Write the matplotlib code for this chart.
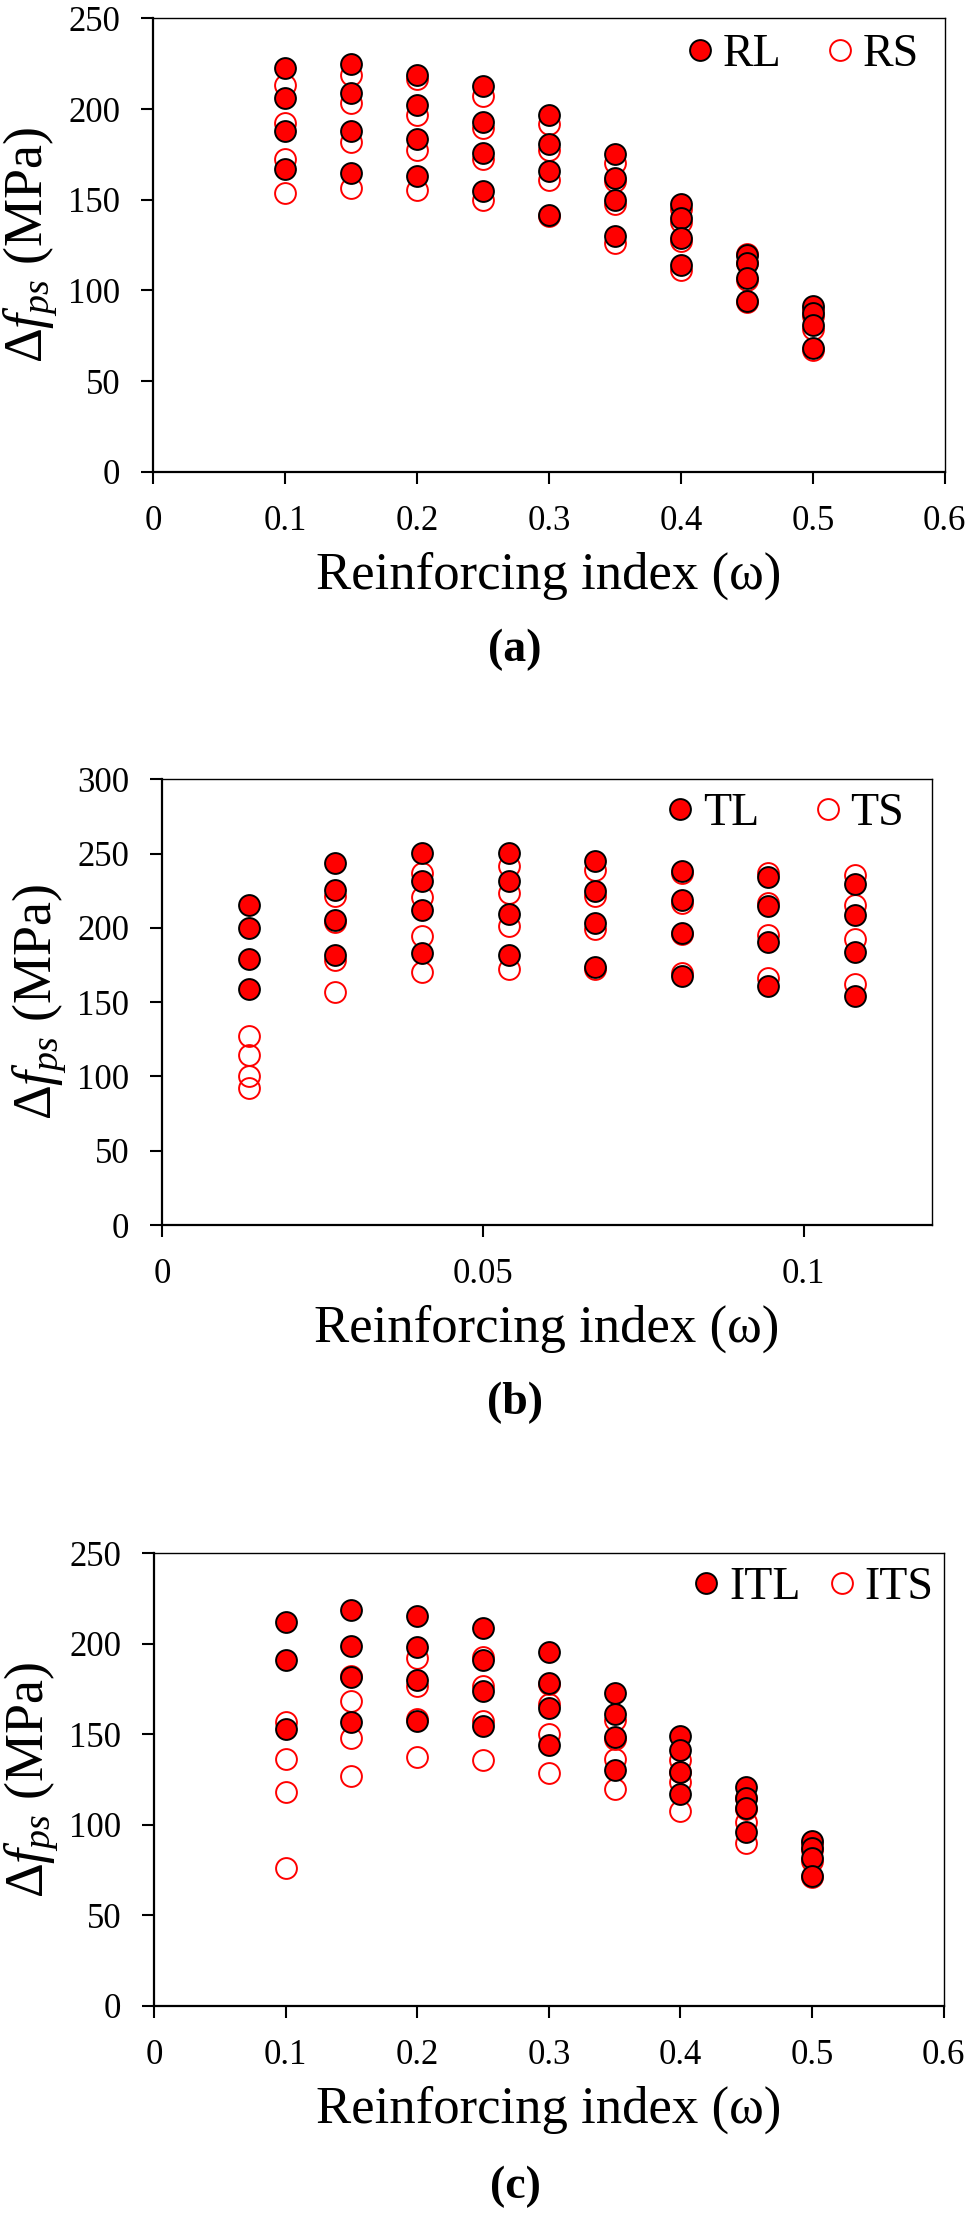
import matplotlib
matplotlib.use('Agg')
import matplotlib.pyplot as plt

plt.rcParams['font.family'] = ['Liberation Serif', 'DejaVu Serif']
plt.rcParams['mathtext.fontset'] = 'custom'
plt.rcParams['mathtext.rm'] = 'Liberation Serif'
plt.rcParams['mathtext.it'] = 'Liberation Serif:italic'

# (a) rectangular sections: reinforcing index vs stress increase (4 cases per index)
omega_a = [0.10, 0.15, 0.20, 0.25, 0.30, 0.35, 0.40, 0.45, 0.50]
rl = [[222.8, 206, 187.8, 166.7],
      [224.6, 209, 187.8, 164.8],
      [219, 202, 183.6, 163],
      [212.7, 192.8, 175.9, 154.7],
      [197, 181, 165.7, 141.8],
      [175, 162, 150, 130],
      [147.4, 140, 129, 114.2],
      [119.8, 115.2, 106.9, 94],
      [91.2, 87.6, 81, 68.3]]
rs = [[213, 192.5, 172.6, 153.8],
      [219, 203.6, 181.8, 156.6],
      [216.4, 197, 177.7, 155.3],
      [207, 189.7, 172.6, 150],
      [191.5, 177.7, 161, 140.9],
      [170.4, 160.2, 147.4, 126.2],
      [145, 138, 127, 111.5],
      [120, 115, 106, 93.5],
      [90, 86, 79, 67]]

# (b) T-sections
omega_b = [0.0135, 0.027, 0.0405, 0.054, 0.0675, 0.081, 0.0945, 0.108]
tl = [[215.4, 200.1, 178.8, 158.6],
      [243.4, 225.5, 205.3, 181.7],
      [250.2, 231.8, 212, 183.3],
      [250.6, 231.8, 209.3, 181.7],
      [245.2, 225, 203.5, 173.9],
      [238.5, 218.8, 196.3, 167.6],
      [234.4, 214.7, 190.7, 160.9],
      [229.5, 208.7, 184, 154.1]]
ts = [[127.2, 114.4, 100.3, 92.4],
      [221.4, 204.2, 178.4, 156.6],
      [237.2, 221, 194.7, 170.1],
      [241.6, 223.7, 201.5, 172.1],
      [239, 221.4, 199, 172.1],
      [237, 217, 196, 169.4],
      [236.7, 216.5, 195.2, 166],
      [235.6, 215.4, 192.3, 162.2]]

# (c) inverted T-sections
omega_c = [0.10, 0.15, 0.20, 0.25, 0.30, 0.35, 0.40, 0.45, 0.50]
itl = [[212.1, 191.2, 153],
       [219, 198.8, 181.6, 156.7],
       [215.3, 198.3, 180.3, 157.6],
       [208.8, 190.9, 174.2, 154.8],
       [195.6, 178.4, 164.7, 144],
       [173, 161.2, 148.4, 130.3],
       [149, 141.4, 129.4, 117],
       [120.8, 115, 109.3, 96.3],
       [91.1, 87.4, 81.9, 71.7]]
its = [[156.7, 136.4, 118.3, 76.3],
       [182.5, 168.3, 147.8, 127.1],
       [192.2, 177, 158.5, 137.3],
       [193, 177, 157.6, 135.8],
       [178, 166.6, 150.3, 128.8],
       [158, 147.5, 136.4, 119.8],
       [136, 129, 123.6, 107.8],
       [115, 109, 101.7, 90.2],
       [90, 86, 80, 71]]

xticks_wide = [0, 0.1, 0.2, 0.3, 0.4, 0.5, 0.6]
xlabels_wide = ['0', '0.1', '0.2', '0.3', '0.4', '0.5', '0.6']
xticks_b = [0, 0.05, 0.1]
xlabels_b = ['0', '0.05', '0.1']


def flatten(xs, groups):
    px, py = [], []
    for x, ys in zip(xs, groups):
        for y in ys:
            px.append(x)
            py.append(y)
    return px, py


fig = plt.figure(figsize=(9.69, 22.16), dpi=100)

panels = [
    # rect, x, solid, open, names, xlim, ylim, xticks, xlabels, legend anchor, colspacing, tag, tag y
    ([0.158, 0.7871, 0.817, 0.2046], omega_a, rl, rs, ('RL', 'RS'),
     (0, 0.6), (0, 250), xticks_wide, xlabels_wide, (0.676, 0.919), 1.03, '(a)', 0.7067),
    ([0.1672, 0.4472, 0.7946, 0.2011], omega_b, tl, ts, ('TL', 'TS'),
     (0, 0.12), (0, 300), xticks_b, xlabels_b, (0.658, 0.922), 1.24, '(b)', 0.3669),
    ([0.1589, 0.0948, 0.8150, 0.2042], omega_c, itl, its, ('ITL', 'ITS'),
     (0, 0.6), (0, 250), xticks_wide, xlabels_wide, (0.685, 0.925), 0.64, '(c)', 0.0131),
]

for rect, xs, solid, hollow, names, xlim, ylim, xt, xtl, anchor, colsp, tag, tag_y in panels:
    ax = fig.add_axes(rect)
    hx, hy = flatten(xs, hollow)
    sx, sy = flatten(xs, solid)
    h_open, = ax.plot(hx, hy, 'o', ms=15, mfc='none', mec='red', mew=1.4,
                      label=names[1], zorder=2)
    h_fill, = ax.plot(sx, sy, 'o', ms=15, mfc='red', mec='black', mew=1.4,
                      label=names[0], zorder=3)
    ax.set_xlim(*xlim)
    ax.set_ylim(*ylim)
    ax.set_xticks(xt)
    ax.set_xticklabels(xtl)
    ax.set_yticks(range(0, ylim[1] + 1, 50))
    ax.tick_params(direction='out', length=8.6, width=1.5, labelsize=25, pad=15,
                   top=False, right=False)
    for side in ('left', 'bottom'):
        ax.spines[side].set_linewidth(1.6)
    for side in ('top', 'right'):
        ax.spines[side].set_linewidth(1.0)
    ax.set_xlabel('Reinforcing index (ω)', fontsize=38, labelpad=10)
    ax.set_ylabel('Δ' + r'$f_{ps}$' + ' (MPa)', fontsize=39, labelpad=6)
    ax.legend([h_fill, h_open], names, loc='center left', bbox_to_anchor=anchor,
              ncol=2, frameon=False, fontsize=33, handlelength=0.5,
              handletextpad=0.25, columnspacing=colsp, borderpad=0,
              borderaxespad=0)
    fig.text(0.5315, tag_y, tag, fontsize=33, fontweight='bold',
             ha='center', va='center')

fig.savefig('out.png', dpi=100)
